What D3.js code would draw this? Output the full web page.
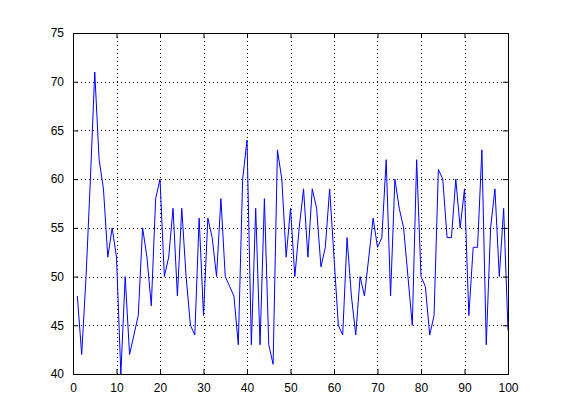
<!DOCTYPE html>
<html><head><meta charset="utf-8">
<script src="https://cdn.jsdelivr.net/npm/d3@7"></script>
<style>body{margin:0;background:#fff}svg{display:block}text{font-family:Arial,"Liberation Sans",Helvetica,sans-serif;font-size:12px}</style>
</head><body><svg id="c" width="561" height="420"></svg>
<script>
const xValues = d3.range(1, 101);
const yValues = [48,42,50,60,71,62,59,52,55,52,
40,50,42,44,46,55,52,47,58,60,
50,52,57,48,57,50,45,44,56,46,
56,54,50,58,50,49,48,43,60,64,
43,57,43,58,43,41,63,60,52,57,
50,55,59,52,59,57,51,53,59,52,
45,44,54,48,44,50,48,52,56,53,
54,62,48,60,57,55,50,45,62,50,
49,44,46,61,60,54,54,60,55,59,
46,53,53,63,43,55,59,50,57,44.5];
const xTicks = [0,10,20,30,40,50,60,70,80,90,100];
const yTicks = [40,45,50,55,60,65,70,75];

const svg = d3.select('#c');
const L=73, R=508, T=33, B=374;
const x = d3.scaleLinear().domain([0,100]).range([L,R]);
const y = d3.scaleLinear().domain([40,75]).range([B,T]);

// grid
const g = svg.append('g');
g.selectAll('.gx').data(xTicks.slice(1,-1)).enter().append('line')
 .attr('x1',d=>Math.round(x(d))+0.5).attr('x2',d=>Math.round(x(d))+0.5).attr('y1',T).attr('y2',B)
 .attr('stroke','#000').attr('stroke-width',1).attr('stroke-dasharray','1,3');
g.selectAll('.gy').data(yTicks.slice(1,-1)).enter().append('line')
 .attr('y1',d=>Math.round(y(d))+0.5).attr('y2',d=>Math.round(y(d))+0.5).attr('x1',L).attr('x2',R)
 .attr('stroke','#000').attr('stroke-width',1).attr('stroke-dasharray','1,3');

// line
svg.append('path').datum(xValues.map((d,i)=>[d,yValues[i]]))
 .attr('fill','none').attr('stroke','#0000ff').attr('stroke-width',1)
 .attr('d', d3.line().x(d=>x(d[0])).y(d=>y(d[1])));

// axes (ticks inward)
const ax = d3.axisBottom(x).tickValues(xTicks).tickSizeInner(-5).tickSizeOuter(0).tickPadding(9);
svg.append('g').attr('transform',`translate(0,${B})`).call(ax);
svg.append('g').attr('transform',`translate(0,${T})`).call(d3.axisTop(x).tickValues(xTicks).tickSizeInner(-5).tickSizeOuter(0).tickFormat(''));
svg.append('g').attr('transform',`translate(${L},0)`).call(d3.axisLeft(y).tickValues(yTicks).tickSizeInner(-5).tickSizeOuter(0).tickPadding(9));
svg.append('g').attr('transform',`translate(${R},0)`).call(d3.axisRight(y).tickValues(yTicks).tickSizeInner(-5).tickSizeOuter(0).tickFormat(''));
svg.selectAll('.domain').remove();
svg.append('rect').attr('x',L+0.5).attr('y',T+0.5).attr('width',R-L).attr('height',B-T)
 .attr('fill','none').attr('stroke','#000');
svg.selectAll('.tick text').attr('font-size',12).attr('fill','#000');
</script></body></html>
